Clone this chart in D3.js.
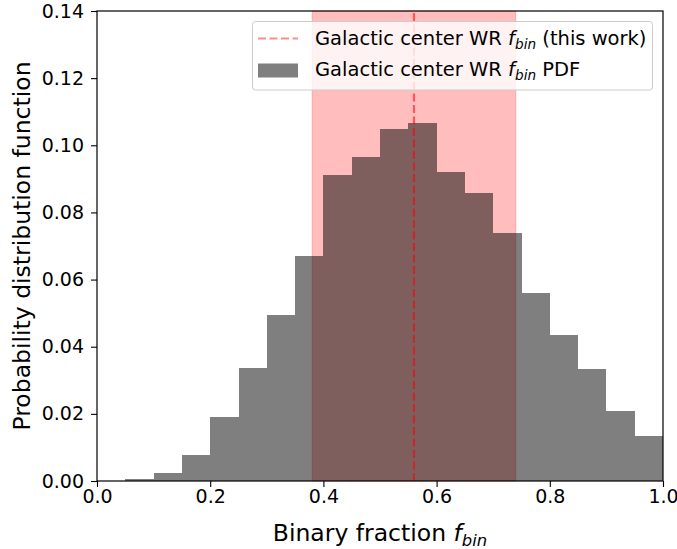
<!DOCTYPE html>
<html>
<head>
<meta charset="utf-8">
<script src="https://cdn.jsdelivr.net/npm/d3@7"></script>
<style>
  html, body { margin: 0; padding: 0; background: #fff; }
  svg { display: block; font-family: "DejaVu Sans", sans-serif; }
</style>
</head>
<body>
<svg id="chart" width="677" height="549"></svg>
<script>
// Histogram bin edges (left edges, width 0.05) and probability densities
const binStarts = [0.00, 0.05, 0.10, 0.15, 0.20, 0.25, 0.30, 0.35, 0.40, 0.45,
                   0.50, 0.55, 0.60, 0.65, 0.70, 0.75, 0.80, 0.85, 0.90, 0.95];
const binWidth = 0.05;
const pdfValues = [0.0000, 0.0006, 0.0024, 0.0076, 0.0192, 0.0338, 0.0495, 0.0670, 0.0911, 0.0966,
                   0.1050, 0.1067, 0.0919, 0.0858, 0.0739, 0.0561, 0.0436, 0.0334, 0.0208, 0.0133];

// Measured binary fraction and its range
const fbinBest = 0.56;
const fbinRange = [0.38, 0.74];

// Tick values
const xTicks = [0.0, 0.2, 0.4, 0.6, 0.8, 1.0];
const yTicks = [0.00, 0.02, 0.04, 0.06, 0.08, 0.10, 0.12, 0.14];

const svg = d3.select("#chart");
const m = { left: 97, right: 663, top: 11, bottom: 481 };

const x = d3.scaleLinear().domain([0, 1]).range([m.left, m.right]);
const y = d3.scaleLinear().domain([0, 0.14]).range([m.bottom, m.top]);

const plot = svg.append("g");

// Shaded range
plot.append("rect")
  .attr("x", x(fbinRange[0]))
  .attr("y", y(0.14))
  .attr("width", x(fbinRange[1]) - x(fbinRange[0]))
  .attr("height", y(0) - y(0.14))
  .attr("fill", "#ff0000")
  .attr("fill-opacity", 0.26)
  .attr("stroke", "#ff0000")
  .attr("stroke-opacity", 0.2)
  .attr("stroke-width", 1);

// Histogram bars
plot.selectAll("rect.bar")
  .data(binStarts.map((s, i) => ({ s, v: pdfValues[i] })))
  .join("rect")
  .attr("class", "bar")
  .attr("x", d => x(d.s))
  .attr("y", d => y(d.v))
  .attr("width", d => x(d.s + binWidth) - x(d.s))
  .attr("height", d => y(0) - y(d.v))
  .attr("fill", "#000")
  .attr("fill-opacity", 0.5)
  .attr("shape-rendering", "crispEdges");

// Best value line
plot.append("line")
  .attr("x1", x(fbinBest)).attr("x2", x(fbinBest))
  .attr("y1", y(0)).attr("y2", y(0.14))
  .attr("stroke", "#ff0000")
  .attr("stroke-opacity", 0.55)
  .attr("stroke-width", 2.2)
  .attr("stroke-dasharray", "8,3.5");

// Axes
const fmtX = d3.format(".1f");
const fmtY = d3.format(".2f");
const xAxis = svg.append("g")
  .attr("transform", `translate(0,${m.bottom})`)
  .call(d3.axisBottom(x).tickValues(xTicks).tickFormat(fmtX).tickSize(6).tickPadding(6));
const yAxis = svg.append("g")
  .attr("transform", `translate(${m.left},0)`)
  .call(d3.axisLeft(y).tickValues(yTicks).tickFormat(fmtY).tickSize(6).tickPadding(7));

[xAxis, yAxis].forEach(a => {
  a.select(".domain").remove();
  a.selectAll(".tick line").attr("stroke", "#000").attr("stroke-width", 1.1);
  a.selectAll(".tick text")
    .attr("font-family", "DejaVu Sans")
    .attr("font-size", 19)
    .attr("fill", "#000");
});
xAxis.selectAll(".tick text").attr("y", 22).attr("dy", 0);

// Frame
svg.append("rect")
  .attr("x", m.left).attr("y", m.top)
  .attr("width", m.right - m.left).attr("height", m.bottom - m.top)
  .attr("fill", "none")
  .attr("stroke", "#000")
  .attr("stroke-width", 1.2);

// Text with italic f and subscript "bin"
function fbinText(sel, before, after, size) {
  sel.append("tspan").text(before);
  sel.append("tspan").attr("font-style", "italic").text("f");
  sel.append("tspan").attr("font-style", "italic")
    .attr("font-size", size * 0.7).attr("dy", size * 0.22).text("bin");
  if (after) sel.append("tspan").attr("dy", -size * 0.22).text(after);
}

// Axis labels
const xl = svg.append("text")
  .attr("x", (m.left + m.right) / 2)
  .attr("y", 541)
  .attr("text-anchor", "middle")
  .attr("font-size", 23.5);
fbinText(xl, "Binary fraction ", "", 23.5);

svg.append("text")
  .attr("transform", `translate(30,${(m.top + m.bottom) / 2}) rotate(-90)`)
  .attr("text-anchor", "middle")
  .attr("font-size", 23.5)
  .text("Probability distribution function");

// Legend
const lg = svg.append("g");
lg.append("rect")
  .attr("x", 252.5).attr("y", 21.5)
  .attr("width", 400).attr("height", 68.5)
  .attr("rx", 3)
  .attr("fill", "#fff").attr("fill-opacity", 0.8)
  .attr("stroke", "#ccc").attr("stroke-width", 1);
lg.append("line")
  .attr("x1", 258).attr("x2", 298)
  .attr("y1", 38.5).attr("y2", 38.5)
  .attr("stroke", "#ff0000").attr("stroke-opacity", 0.45)
  .attr("stroke-width", 2.2).attr("stroke-dasharray", "8,3.5");
lg.append("rect")
  .attr("x", 258).attr("y", 63.5)
  .attr("width", 40).attr("height", 14)
  .attr("fill", "#000").attr("fill-opacity", 0.5);
const t1 = lg.append("text").attr("x", 315).attr("y", 45).attr("font-size", 19.5);
fbinText(t1, "Galactic center WR ", " (this work)", 19.5);
const t2 = lg.append("text").attr("x", 315).attr("y", 76).attr("font-size", 19.5);
fbinText(t2, "Galactic center WR ", " PDF", 19.5);
</script>
</body>
</html>
